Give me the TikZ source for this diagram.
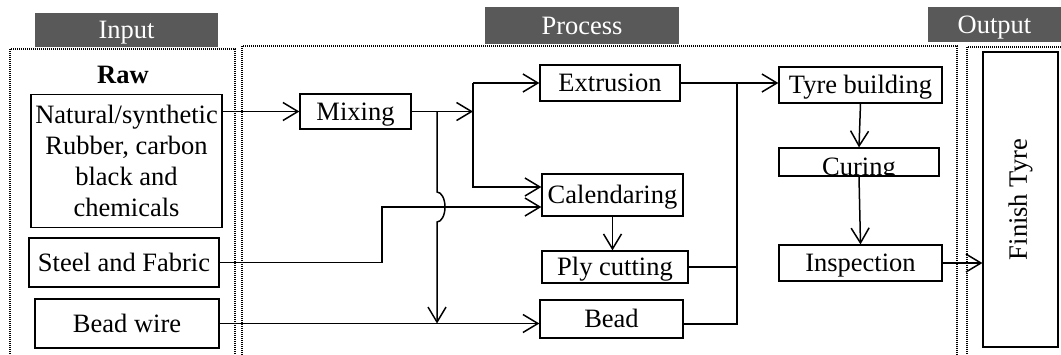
\documentclass[tikz,border=0pt]{standalone}
\usepackage{fontspec}
\setmainfont{Liberation Serif}
\usetikzlibrary{arrows.meta, positioning}
\definecolor{headgray}{RGB}{89,89,89}
\tikzset{
  >={Straight Barb[length=15pt, width=18pt]}, % open arrow heads
  stage/.style={draw, line width=1.2pt, inner sep=0pt, align=center}, % the
  % boxes of each step
  oneline/.style={stage, text height=17.5pt, text depth=0pt}, % one line
  % boxes, capitals centred
  head/.style={fill=headgray, text=white, inner sep=0pt, text height=17.5pt,
    text depth=0pt}, % column titles
  frame/.style={line width=1.5pt, dash pattern=on 1pt off 1pt}, % dotted
  % column borders
  flow/.style={line width=1.5pt}, % connectors
}

\begin{document}
\begin{tikzpicture}[x=1pt, y=-1pt, font=\fontsize{26.5}{31}\selectfont]
    \useasboundingbox (0,0) rectangle (1061,354);

    % columns
    \draw[frame] (10,49) rectangle (235,370);
    \draw[frame] (242,46) rectangle (957,370);
    \draw[frame] (967,47) rectangle (1080,370);
    \node[head, minimum width=183pt, minimum height=34pt] (inhead) at (126.5,30) {Input};
    \node[head, minimum width=194pt, minimum height=37pt] (prochead) at (582,25.5) {Process};
    \node[head, minimum width=133pt, minimum height=35pt] (outhead) at (994.5,24.5) {Output};

    % input
    \node[font=\fontsize{26.5}{31}\selectfont\bfseries] (raw) at (123,75) {Raw};
    \node[stage, minimum width=191pt, minimum height=133pt] (rubber) at (126.5,161)
    {Natural/synthetic\\Rubber, carbon\\black and\\chemicals};
    \node[oneline, minimum width=190pt, minimum height=49pt] (steel) at (124,262.5) {Steel and Fabric};
    \node[oneline, minimum width=184pt, minimum height=49pt] (beadwire) at (127,323.5) {Bead wire};

    % process
    \node[oneline, minimum width=111pt, minimum height=35pt] (mixing) at (355.5,111.5) {Mixing};
    \node[oneline, minimum width=140pt, minimum height=36pt] (extrusion) at (610,83) {Extrusion};
    \node[oneline, minimum width=141pt, minimum height=42pt] (calendaring) at (612.5,195) {Calendaring};
    \node[oneline, minimum width=146pt, minimum height=32pt] (plycut) at (615,267) {Ply cutting};
    \node[oneline, minimum width=143pt, minimum height=38pt] (bead) at (611.5,319) {Bead};
    \node[oneline, minimum width=163pt, minimum height=36pt] (tyrebuild) at (860.5,85) {Tyre building};
    \node[stage, minimum width=160pt, minimum height=28pt] (curing) at (859,162) {};
    \begin{scope}
      \clip (curing.south west) rectangle (curing.north east);
      \node[anchor=base, inner sep=0pt] (curingtext) at (859,175.5) {Curing};
    \end{scope}
    \node[oneline, minimum width=163pt, minimum height=36pt] (inspection) at (860.5,263) {Inspection};

    % output
    \node[stage, rotate=90, minimum width=295pt, minimum height=75pt] (finish) at (1020.5,199.5) {Finish Tyre};

    \coordinate (sp0) at (437,111.5);
    \coordinate (sp1) at (473,111.5);
    \coordinate (sp2) at (737,83);
    \coordinate (calA) at ([yshift=8pt]calendaring.west);
    \coordinate (calB) at ([yshift=-12pt]calendaring.west);
    \coordinate (stp) at (382,207);
    \coordinate (hop) at (sp0 |- calB);

    \draw[flow, ->] (rubber.east |- mixing.west) -- (mixing.west);
    \draw[flow, ->] (mixing.east) -- (sp1);
    \draw[flow, ->] (sp1 |- extrusion.west) -- (extrusion.west);
    \draw[flow, ->] (sp1 |- extrusion.west) -- (sp1 |- calA) -- (calA);
    \draw[flow, ->] (sp0) -- ([yshift=15pt]hop)
      arc[start angle=90, end angle=-90, x radius=8pt, y radius=15pt]
      -- (sp0 |- beadwire.east);
    \draw[flow, ->] (steel.east) -| (stp) -- (calB);
    \draw[flow, ->] (beadwire.east) -- (bead.west |- beadwire.east);
    \draw[flow, ->] (calendaring.south) -- (calendaring.south |- plycut.north);
    \draw[flow, ->] (extrusion.east) -- (tyrebuild.west |- extrusion.east);
    \draw[flow] (sp2) |- ([yshift=-5pt]bead.east);
    \draw[flow] (plycut.east) -- (sp2 |- plycut.east);
    \draw[flow, ->] (tyrebuild.south) -- (curing.north);
    \draw[flow, ->] (curing.south) -- (inspection.north);
    \draw[flow, ->] (inspection.east) -- (finish.north |- inspection.east);
  \end{tikzpicture}
\end{document}
